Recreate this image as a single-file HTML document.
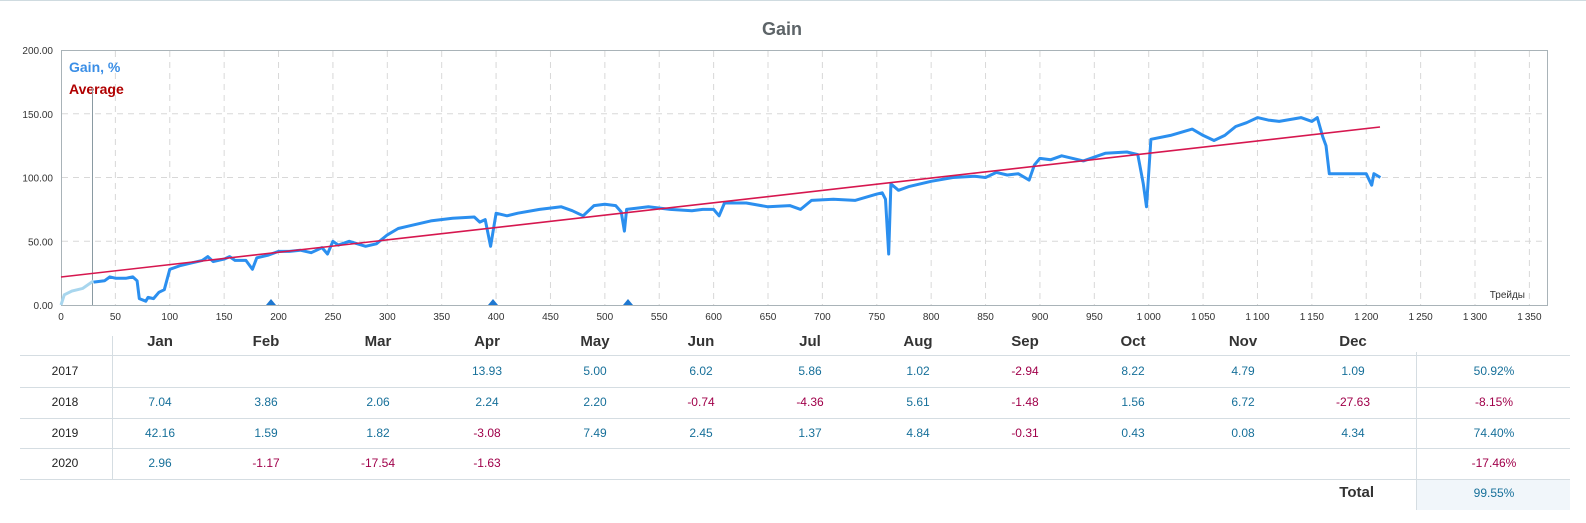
<!DOCTYPE html>
<html><head><meta charset="utf-8"><style>
html,body{margin:0;padding:0;background:#fff;width:1586px;height:523px;overflow:hidden}
svg text{font-family:"Liberation Sans","DejaVu Sans",sans-serif}
</style></head><body>
<svg id="s" width="1586" height="523" viewBox="0 0 1586 523" xmlns="http://www.w3.org/2000/svg">
<line x1="0" y1="0.5" x2="1586" y2="0.5" stroke="#cfdbe0"/>
<text x="782" y="35" text-anchor="middle" font-size="18" font-weight="bold" fill="#5d6468">Gain</text>
<g id="grid" stroke="#d8d8d8" stroke-dasharray="6,5" stroke-width="1"></g>
<rect x="61.5" y="50.5" width="1486" height="255" fill="none" stroke="#a9b3b8"/>
<g id="labels" font-size="10" fill="#333"></g>
<text x="1525" y="298" text-anchor="end" font-size="10" fill="#333">Трейды</text>
<text x="69" y="72" font-size="14" font-weight="bold" fill="#3a8ee6">Gain, %</text>
<text x="69" y="94" font-size="14" font-weight="bold" fill="#b00000">Average</text>
<line x1="92.5" y1="88" x2="92.5" y2="305" stroke="#8a9aa2"/>
<polyline id="light" fill="none" stroke="#a8d6ee" stroke-width="3"/>
<polyline id="gain" fill="none" stroke="#2b8fef" stroke-width="3" stroke-linejoin="round"/>
<line x1="61" y1="277" x2="1380" y2="127" stroke="#d6174f" stroke-width="1.6"/>
<path d="M266 305 L271 299 L276 305Z M488 305 L493 299 L498 305Z M623 305 L628 299 L633 305Z" fill="#1f78d1"/>
<g id="table"></g>
</svg>
<script>
var NS="http://www.w3.org/2000/svg";
function el(t,a,txt,p){var e=document.createElementNS(NS,t);for(var k in a)e.setAttribute(k,a[k]);if(txt!=null)e.textContent=txt;(p||document.getElementById('s')).appendChild(e);return e;}
function X(t){return 61+t*1.0877;}function Y(g){return 305-g*1.275;}
var grid=document.getElementById('grid'),lab=document.getElementById('labels');
for(var i=1;i<=27;i++){var x=X(i*50);if(x<1546)el('line',{x1:x,y1:51,x2:x,y2:305},null,grid);}
for(var g=50;g<200;g+=50)el('line',{x1:62,y1:Y(g),x2:1547,y2:Y(g)},null,grid);
for(var i=0;i<=27;i++){var v=i*50,s=v>=1000?(Math.floor(v/1000)+"\u2009"+String(v%1000).padStart(3,'0')):String(v);el('text',{x:X(v),y:320,'text-anchor':'middle'},s,lab);}
for(var g=0;g<=200;g+=50)el('text',{x:53,y:Y(g)+4,'text-anchor':'end'},g.toFixed(2),lab);
var L=[[0,0],[3,8],[10,11],[20,13],[30,19]];
var D=[[30,18],[40,19],[45,22],[50,21],[60,21],[66,22],[70,19],[72,5],[78,3],[80,6],[85,5],[90,10],[95,12],[100,28],[110,31],[120,33],[130,35],[135,38],[140,34],[150,36],[155,38],[160,35],[170,35],[176,28],[180,37],[190,39],[200,42],[210,42],[220,43],[230,41],[240,45],[245,40],[250,50],[255,47],[265,50],[280,46],[290,48],[300,55],[310,60],[320,62],[340,66],[360,68],[380,69],[385,65],[390,67],[395,46],[400,72],[410,70],[420,72],[440,75],[460,77],[470,74],[480,70],[490,78],[500,79],[510,78],[515,73],[518,58],[520,75],[540,77],[560,75],[580,74],[590,75],[600,75],[605,70],[610,80],[630,80],[650,77],[670,78],[680,75],[690,82],[710,83],[730,82],[750,87],[755,88],[758,83],[761,40],[763,95],[770,90],[780,93],[800,97],[820,100],[840,101],[850,100],[860,104],[870,102],[880,103],[890,98],[895,110],[900,115],[910,114],[920,117],[940,113],[960,119],[980,120],[990,118],[995,95],[998,77],[1002,130],[1020,133],[1040,138],[1050,133],[1060,129],[1070,133],[1080,140],[1090,143],[1100,147],[1110,145],[1120,144],[1140,147],[1150,144],[1155,147],[1160,132],[1163,125],[1166,103],[1180,103],[1200,103],[1205,94],[1207,103],[1213,100]];
function pts(a){return a.map(function(p){return X(p[0]).toFixed(1)+","+Y(p[1]).toFixed(1)}).join(" ");}
document.getElementById('light').setAttribute('points',pts(L));
document.getElementById('gain').setAttribute('points',pts(D));
var T=document.getElementById('table');
var lines=[355,387,418,448,479];
lines.forEach(function(y){el('line',{x1:20,y1:y+.5,x2:1570,y2:y+.5,stroke:'#d5dde2'},null,T);});
el('rect',{x:1417,y:480,width:153,height:30,fill:'#f1f6fa'},null,T);
el('line',{x1:112.5,y1:336,x2:112.5,y2:479,stroke:'#d5dde2'},null,T);
el('line',{x1:1416.5,y1:352,x2:1416.5,y2:510,stroke:'#d5dde2'},null,T);
var mc=[160,266,378,487,595,701,810,918,1025,1133,1243,1353];
var mn=["Jan","Feb","Mar","Apr","May","Jun","Jul","Aug","Sep","Oct","Nov","Dec"];
mn.forEach(function(m,i){el('text',{x:mc[i],y:346,'text-anchor':'middle','font-size':15,'font-weight':'bold',fill:'#333'},m,T);});
var rows=[["2017",[null,null,null,"13.93","5.00","6.02","5.86","1.02","-2.94","8.22","4.79","1.09"],"50.92%"],
["2018",["7.04","3.86","2.06","2.24","2.20","-0.74","-4.36","5.61","-1.48","1.56","6.72","-27.63"],"-8.15%"],
["2019",["42.16","1.59","1.82","-3.08","7.49","2.45","1.37","4.84","-0.31","0.43","0.08","4.34"],"74.40%"],
["2020",["2.96","-1.17","-17.54","-1.63"],"-17.46%"]];
var ry=[375,406,437,467];
rows.forEach(function(r,k){
 el('text',{x:65,y:ry[k],'text-anchor':'middle','font-size':12,fill:'#222'},r[0],T);
 r[1].forEach(function(v,i){if(v==null)return;el('text',{x:mc[i],y:ry[k],'text-anchor':'middle','font-size':12,fill:v[0]=='-'?'#a0004a':'#17709a'},v,T);});
 el('text',{x:1494,y:ry[k],'text-anchor':'middle','font-size':12,fill:r[2][0]=='-'?'#a0004a':'#17709a'},r[2],T);
});
el('text',{x:1374,y:497,'text-anchor':'end','font-size':15,'font-weight':'bold',fill:'#333'},"Total",T);
el('text',{x:1494,y:497,'text-anchor':'middle','font-size':12,fill:'#17709a'},"99.55%",T);
</script>
</body></html>
